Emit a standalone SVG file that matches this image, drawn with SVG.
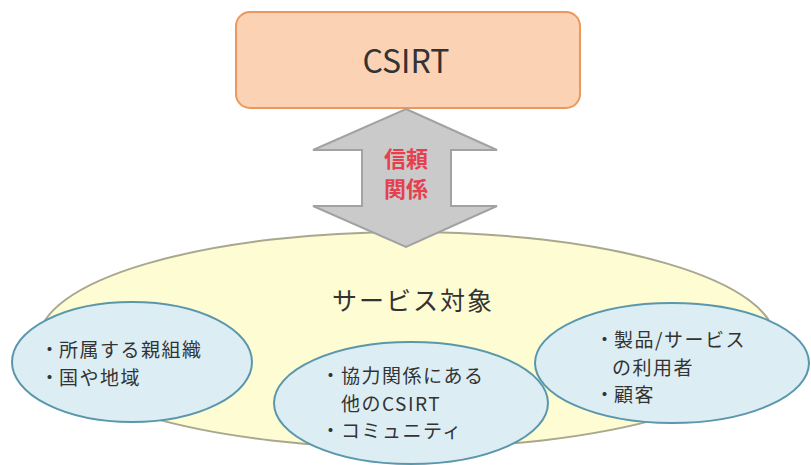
<svg xmlns="http://www.w3.org/2000/svg" width="811" height="465" viewBox="0 0 811 465">
<style>
text{font-family:"Noto Sans CJK JP","Noto Sans",sans-serif;fill:#333333}
.blue{fill:#DCEEF4;stroke:#5A97AC;stroke-width:2}
.item{font-size:19px;letter-spacing:1.5px}
.red{fill:#E5404E;font-size:22px;font-weight:bold}
</style>
<rect width="811" height="465" fill="#ffffff"/>
<g id="target">
<ellipse cx="407" cy="340" rx="368" ry="108" fill="#FEFCD2" stroke="#A9A78E" stroke-width="2"/>
<text x="413" y="310" font-size="25" letter-spacing="2" text-anchor="middle">サービス対象</text>
</g>
<g id="csirt">
<rect x="236" y="12" width="344" height="96" rx="14" fill="#FBD3B4" stroke="#EC985C" stroke-width="2"/>
<text x="406" y="73" font-size="32" text-anchor="middle">CSIRT</text>
</g>
<g id="connectors">
<polygon points="406,109 497,150 451,150 451,206 497,206 406,247 313,206 362,206 362,150 313,150" fill="#CACACA" stroke="#A2A2A2" stroke-width="2" stroke-linejoin="miter"/>
<text class="red" x="406" y="168" text-anchor="middle"><tspan x="406" y="167">信頼</tspan><tspan x="406" y="197">関係</tspan></text>
</g>
<g id="parent">
<ellipse class="blue" cx="132" cy="362" rx="120" ry="60"/>
<text class="item"><tspan x="40" y="357">・</tspan><tspan x="59" y="357">所属する親組織</tspan><tspan x="40" y="384.5">・</tspan><tspan x="59" y="384.5">国や地域</tspan></text>
</g>
<g id="users">
<ellipse class="blue" cx="672" cy="363" rx="137" ry="60"/>
<text class="item"><tspan x="595" y="347">・</tspan><tspan x="614" y="347">製品/サービス</tspan><tspan x="612" y="374.5">の利用者</tspan><tspan x="595" y="402">・</tspan><tspan x="614" y="402">顧客</tspan></text>
</g>
<g id="community">
<ellipse class="blue" cx="411" cy="403" rx="137" ry="61"/>
<text class="item"><tspan x="321" y="383">・</tspan><tspan x="341" y="383">協力関係にある</tspan><tspan x="341" y="410.5">他のCSIRT</tspan><tspan x="321" y="438">・</tspan><tspan x="341" y="438">コミュニティ</tspan></text>
</g>
</svg>
